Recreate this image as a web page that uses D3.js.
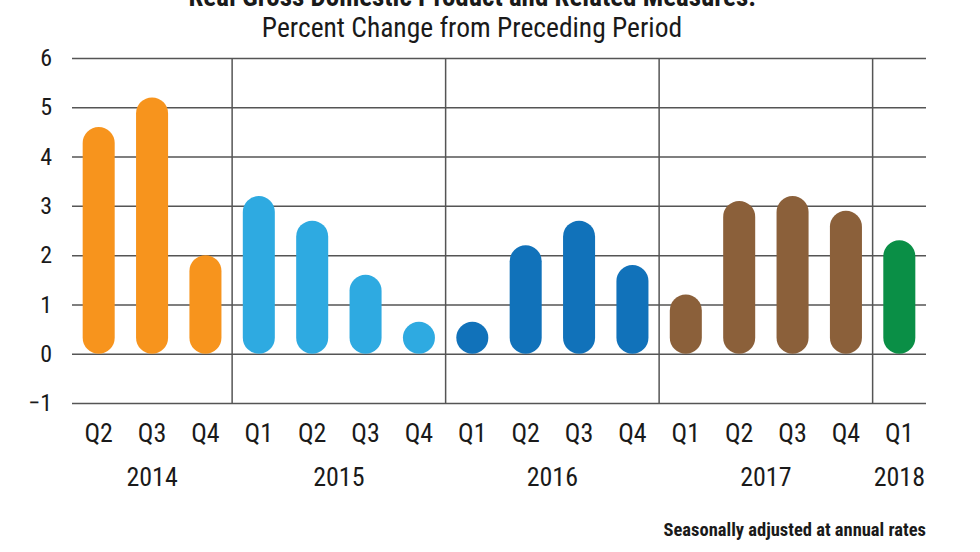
<!DOCTYPE html>
<html>
<head>
<meta charset="utf-8">
<script src="https://cdn.jsdelivr.net/npm/d3@7"></script>
<style>
  body { margin: 0; background: #fff; }
  text { font-family: "Liberation Sans Narrow", "Roboto Condensed", "Arial Narrow", sans-serif; fill: #1a1a1a; }
</style>
</head>
<body>
<svg id="chart"></svg>
<script>
const quarters = ['Q2','Q3','Q4','Q1','Q2','Q3','Q4','Q1','Q2','Q3','Q4','Q1','Q2','Q3','Q4','Q1'];
const years = ['2014','2014','2014','2015','2015','2015','2015','2016','2016','2016','2016','2017','2017','2017','2017','2018'];
const values = [4.6, 5.2, 2.0, 3.2, 2.7, 1.6, 0.4, 0.6, 2.2, 2.7, 1.8, 1.2, 3.1, 3.2, 2.9, 2.3];
const yTicks = [-1, 0, 1, 2, 3, 4, 5, 6];
const yearColors = { '2014': '#f7941d', '2015': '#2eaae1', '2016': '#1172ba', '2017': '#8b603a', '2018': '#0a8f46' };

const data = values.map((v, i) => ({ key: years[i] + quarters[i], q: quarters[i], year: years[i], value: v }));

const W = 980, H = 552;
const margin = { top: 58, right: 54, bottom: 149, left: 72 };
const width = W - margin.left - margin.right;
const height = H - margin.top - margin.bottom;

const svg = d3.select('#chart').attr('width', W).attr('height', H);
const g = svg.append('g').attr('transform', `translate(${margin.left},${margin.top})`);

const x = d3.scaleBand().domain(data.map(d => d.key)).range([0, width]).paddingInner(0.4).paddingOuter(0.2);
const y = d3.scaleLinear().domain([-1, 6]).range([height, 0]);

// title (first line partly cut off by the frame, as in the original)
svg.append('text').attr('x', 472).attr('y', 6).attr('text-anchor', 'middle')
  .style('font-size', '27px').style('font-weight', 'bold')
  .text('Real Gross Domestic Product and Related Measures:');
svg.append('text').attr('x', 472).attr('y', 37).attr('text-anchor', 'middle')
  .style('font-size', '27.5px')
  .text('Percent Change from Preceding Period');

// horizontal grid + y labels
const yAxis = d3.axisLeft(y).tickValues(yTicks).tickSize(-width).tickPadding(20).tickFormat(d3.format('d'));
g.append('g').call(yAxis)
  .call(s => s.select('.domain').remove())
  .call(s => s.selectAll('line').attr('stroke', '#555').attr('stroke-width', 1.5))
  .call(s => s.selectAll('text').style('font-size', '24px').attr('fill', '#1a1a1a'));

// year separators
const step = x.step();
const seps = data.filter((d, i) => i > 0 && d.year !== data[i - 1].year);
g.selectAll('.sep').data(seps).enter().append('line')
  .attr('x1', d => x(d.key) - (step - x.bandwidth()) / 2)
  .attr('x2', d => x(d.key) - (step - x.bandwidth()) / 2)
  .attr('y1', y(6)).attr('y2', y(-1))
  .attr('stroke', '#555').attr('stroke-width', 1.5);

// bars with rounded ends
const bw = x.bandwidth();
g.selectAll('.bar').data(data).enter().append('rect')
  .attr('x', d => x(d.key))
  .attr('width', bw)
  .attr('y', d => Math.min(y(d.value), y(0) - bw))
  .attr('height', d => Math.max(y(0) - y(d.value), bw))
  .attr('rx', bw / 2).attr('ry', bw / 2)
  .attr('fill', d => yearColors[d.year]);

// quarter labels
const xAxis = d3.axisBottom(x).tickSize(0).tickPadding(21).tickFormat((k, i) => quarters[i]);
g.append('g').attr('transform', `translate(0,${y(-1)})`).call(xAxis)
  .call(s => s.select('.domain').remove())
  .call(s => s.selectAll('text').style('font-size', '26px').attr('fill', '#1a1a1a'));

// year labels
const yearGroups = d3.groups(data, d => d.year).map(([yr, arr]) => ({
  year: yr,
  cx: (x(arr[0].key) + x(arr[arr.length - 1].key) + bw) / 2
}));
g.selectAll('.year').data(yearGroups).enter().append('text')
  .attr('x', d => d.cx).attr('y', y(-1) + 83)
  .attr('text-anchor', 'middle').style('font-size', '26px')
  .text(d => d.year);

// note
svg.append('text').attr('x', 926).attr('y', 536).attr('text-anchor', 'end')
  .style('font-size', '18.5px').style('font-weight', 'bold')
  .text('Seasonally adjusted at annual rates');
</script>
</body>
</html>
